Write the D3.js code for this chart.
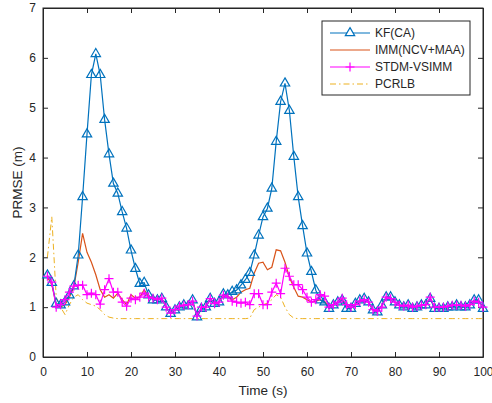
<!DOCTYPE html>
<html>
<head>
<meta charset="utf-8">
<script src="https://cdn.jsdelivr.net/npm/d3@7"></script>
<style>
  body { margin: 0; background: #fff; }
  svg text { font-family: "Liberation Sans", Arial, sans-serif; fill: #262626; }
</style>
</head>
<body>
<div id="chart"></div>
<script>
const width = 492, height = 403;
const margin = {top: 8, right: 9, bottom: 46, left: 43};

// time steps 1..100
const time = d3.range(1, 101);

const kfCA = [1.64,1.49,1.07,1.04,1.1,1.24,1.42,2.04,3.21,4.47,
  5.66,6.08,5.66,4.76,4.07,3.48,3.28,2.91,2.58,2.14,
  1.77,1.47,1.49,1.24,1.14,1.14,1.17,1.0,0.87,0.94,
  1.0,1.04,1.02,1.14,0.8,0.97,1.0,1.17,1.07,1.1,
  1.26,1.24,1.31,1.34,1.44,1.55,1.69,2.04,2.44,2.81,
  2.98,3.38,4.32,5.12,5.49,4.94,4.02,3.21,2.63,2.08,
  1.71,1.34,1.14,1.1,0.97,1.04,1.1,1.14,0.97,0.97,
  1.07,1.14,1.17,1.1,0.94,0.9,1.04,1.2,1.2,1.1,
  1.04,1.0,1.04,0.97,1.0,1.04,1.04,1.17,0.97,0.97,
  0.97,1.0,1.0,1.04,1.0,1.0,1.04,1.14,1.14,0.97];

const imm = [1.6,1.45,1.05,1.0,1.05,1.2,1.4,1.9,2.48,2.1,
  1.9,1.65,1.35,1.2,1.25,1.18,1.28,1.15,1.05,1.25,
  1.18,1.2,1.35,1.2,1.2,1.15,1.18,1.0,0.88,0.95,
  1.02,1.04,1.04,1.12,0.82,0.98,1.0,1.17,1.07,1.1,
  1.24,1.22,1.15,1.2,1.3,1.35,1.38,1.68,1.88,1.9,
  1.75,1.8,2.15,2.13,1.9,1.6,1.4,1.22,1.2,1.15,
  1.1,1.12,1.15,1.12,1.0,1.05,1.1,1.16,1.02,0.99,
  1.06,1.13,1.16,1.1,0.95,0.92,1.02,1.2,1.18,1.1,
  1.04,1.01,1.04,0.99,1.01,1.04,1.05,1.19,0.99,0.99,
  0.99,1.01,1.02,1.04,1.02,1.01,1.04,1.13,1.12,0.99];

const stdm = [1.62,1.5,1.0,1.05,1.15,1.3,1.42,1.44,1.44,1.25,
  1.28,1.25,1.06,1.35,1.57,1.3,1.3,1.1,1.02,1.18,
  1.15,1.2,1.28,1.2,1.18,1.15,1.18,1.0,0.88,0.95,
  1.02,1.04,1.05,1.12,0.82,1.0,1.0,1.17,1.07,1.1,
  1.24,1.2,1.12,1.1,1.08,1.1,1.05,1.27,1.27,1.05,
  1.05,1.3,1.48,1.27,1.78,1.62,1.45,1.45,1.35,1.2,
  1.1,1.15,1.25,1.22,1.0,1.05,1.1,1.18,1.05,1.0,
  1.05,1.12,1.15,1.1,0.95,0.92,1.0,1.2,1.17,1.1,
  1.04,1.02,1.04,1.0,1.02,1.04,1.05,1.2,1.0,1.0,
  1.0,1.02,1.04,1.04,1.04,1.02,1.05,1.12,1.1,1.0];

const pcrlb = [2.0,2.81,1.2,1.0,0.85,1.05,1.2,1.25,1.15,1.08,
  1.05,1.02,0.95,0.85,0.8,0.78,0.77,0.77,0.77,0.77,
  0.77,0.77,0.77,0.77,0.77,0.77,0.77,0.77,0.77,0.77,
  0.77,0.77,0.77,0.77,0.77,0.77,0.77,0.77,0.77,0.77,
  0.77,0.77,0.77,0.77,0.77,0.77,0.78,0.95,1.0,1.05,
  1.08,1.15,1.25,1.2,1.0,0.85,0.78,0.77,0.77,0.77,
  0.77,0.77,0.77,0.77,0.77,0.77,0.77,0.77,0.77,0.77,
  0.77,0.77,0.77,0.77,0.77,0.77,0.77,0.77,0.77,0.77,
  0.77,0.77,0.77,0.77,0.77,0.77,0.77,0.77,0.77,0.77,
  0.77,0.77,0.77,0.77,0.77,0.77,0.77,0.77,0.77,0.77];

const xTicks = d3.range(0, 101, 10);
const yTicks = d3.range(0, 8, 1);
const seriesNames = ["KF(CA)", "IMM(NCV+MAA)", "STDM-VSIMM", "PCRLB"];
const colors = ["#0072BD", "#D95319", "#FF00FF", "#EDB120"];

const svg = d3.select("#chart").append("svg")
  .attr("width", width).attr("height", height);

const w = width - margin.left - margin.right;
const h = height - margin.top - margin.bottom;
const g = svg.append("g").attr("transform", `translate(${margin.left},${margin.top})`);

const x = d3.scaleLinear().domain([0, 100]).range([0, w]);
const y = d3.scaleLinear().domain([0, 7]).range([h, 0]);

// axes: ticks pointing inward, mirrored on top / right
const axCol = "#262626";
g.append("g").attr("transform", `translate(0,${h})`)
  .call(d3.axisBottom(x).tickValues(xTicks).tickFormat(d3.format("d"))
    .tickSizeInner(-5).tickSizeOuter(0).tickPadding(10));
g.append("g").call(d3.axisLeft(y).tickValues(yTicks).tickFormat(d3.format("d"))
    .tickSizeInner(-5).tickSizeOuter(0).tickPadding(7));
g.append("g").call(d3.axisTop(x).tickValues(xTicks).tickSizeInner(-5).tickSizeOuter(0).tickFormat(""));
g.append("g").attr("transform", `translate(${w},0)`)
  .call(d3.axisRight(y).tickValues(yTicks).tickSizeInner(-5).tickSizeOuter(0).tickFormat(""));
g.selectAll(".tick line").attr("stroke", axCol);
g.selectAll(".domain").attr("stroke", axCol);
g.selectAll(".tick text").style("font-size", "12px").attr("fill", axCol);

g.append("rect").attr("width", w).attr("height", h)
  .attr("fill", "none").attr("stroke", axCol).attr("stroke-width", 1);

const plot = g.append("g");
const line = d3.line().x((d, i) => x(time[i])).y(d => y(d));

// PCRLB
plot.append("path").datum(pcrlb).attr("d", line)
  .attr("fill", "none").attr("stroke", colors[3]).attr("stroke-width", 1)
  .attr("stroke-dasharray", "6,3,1.5,3");

// IMM
plot.append("path").datum(imm).attr("d", line)
  .attr("fill", "none").attr("stroke", colors[1]).attr("stroke-width", 1.2);

// KF(CA)
plot.append("path").datum(kfCA).attr("d", line)
  .attr("fill", "none").attr("stroke", colors[0]).attr("stroke-width", 1.2);
const tri = d3.symbol().type(d3.symbolTriangle).size(38);
plot.selectAll(".kf").data(kfCA).join("path")
  .attr("class", "kf")
  .attr("d", tri)
  .attr("transform", (d, i) => `translate(${x(time[i])},${y(d)})`)
  .attr("fill", "none").attr("stroke", colors[0]).attr("stroke-width", 1.2);

// STDM-VSIMM
plot.append("path").datum(stdm).attr("d", line)
  .attr("fill", "none").attr("stroke", colors[2]).attr("stroke-width", 1.2);
plot.selectAll(".st").data(stdm).join("path")
  .attr("class", "st")
  .attr("d", "M-4.5,0H4.5M0,-4.5V4.5")
  .attr("transform", (d, i) => `translate(${x(time[i])},${y(d)})`)
  .attr("stroke", colors[2]).attr("stroke-width", 1.2);

// axis labels
svg.append("text").attr("x", margin.left + w / 2).attr("y", 395)
  .attr("text-anchor", "middle").style("font-size", "13.5px").text("Time (s)");
svg.append("text").attr("transform", `translate(22,${margin.top + h / 2}) rotate(-90)`)
  .attr("text-anchor", "middle").style("font-size", "13.5px").text("PRMSE (m)");

// legend
const lg = svg.append("g").attr("transform", "translate(322,21)");
lg.append("rect").attr("width", 148).attr("height", 74)
  .attr("fill", "#fff").attr("stroke", axCol).attr("stroke-width", 1);
seriesNames.forEach((name, i) => {
  const yy = 12 + i * 17;
  const l = lg.append("line").attr("x1", 8).attr("x2", 48).attr("y1", yy).attr("y2", yy)
    .attr("stroke", colors[i]).attr("stroke-width", 1.2);
  if (i === 3) l.attr("stroke-dasharray", "6,3,1.5,3");
  if (i === 0) lg.append("path").attr("d", tri).attr("transform", `translate(28,${yy})`)
    .attr("fill", "#fff").attr("stroke", colors[0]).attr("stroke-width", 1.2);
  if (i === 2) lg.append("path").attr("d", "M-4.5,0H4.5M0,-4.5V4.5")
    .attr("transform", `translate(28,${yy})`).attr("stroke", colors[2]).attr("stroke-width", 1.2);
  lg.append("text").attr("x", 53).attr("y", yy + 4).style("font-size", "12px").text(name);
});
</script>
</body>
</html>
